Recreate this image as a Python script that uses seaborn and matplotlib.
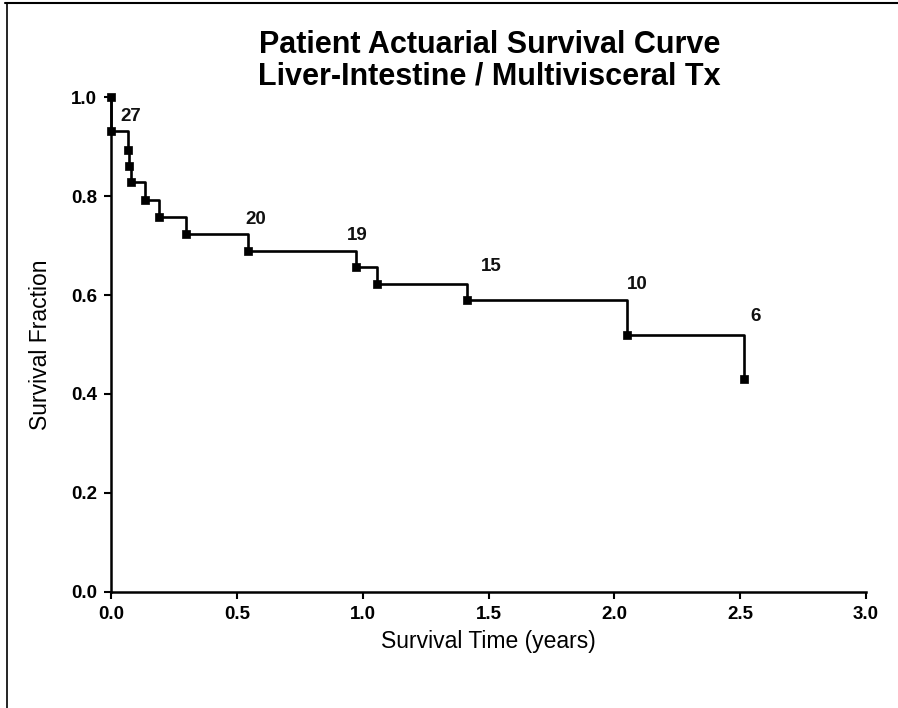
import matplotlib
matplotlib.use("Agg")
import matplotlib.pyplot as plt
import seaborn as sns
import pandas as pd
from matplotlib.lines import Line2D

# Data
times = [0.0, 0.0, 0.066, 0.070, 0.080, 0.135, 0.192, 0.298, 0.543, 0.972, 1.056, 1.413, 2.05, 2.515]
survival = [1.0, 0.931, 0.893, 0.861, 0.828, 0.792, 0.757, 0.723, 0.689, 0.657, 0.622, 0.590, 0.519, 0.430]
risk_labels = ["27", "20", "19", "15", "10", "6"]
risk_x = [0.08, 0.576, 0.977, 1.51, 2.09, 2.563]
risk_y = [0.962, 0.752, 0.721, 0.657, 0.622, 0.556]
x_ticks = [0.0, 0.5, 1.0, 1.5, 2.0, 2.5, 3.0]
y_ticks = [0.0, 0.2, 0.4, 0.6, 0.8, 1.0]

sns.set_theme(style="ticks")
plt.rcParams['font.family'] = ['Liberation Sans', 'DejaVu Sans']

df = pd.DataFrame({"t": times, "s": survival})

fig = plt.figure(figsize=(8.98, 7.08), dpi=100)
ax = fig.add_axes([0.1236, 0.1643, 0.9644 - 0.1236, 0.8626 - 0.1643])

sns.lineplot(data=df, x="t", y="s", ax=ax, color="black", linewidth=1.9,
             drawstyle="steps-post", estimator=None, sort=False, clip_on=False)
sns.scatterplot(data=df, x="t", y="s", ax=ax, color="black", marker="s",
                s=30, edgecolor="black", linewidth=0.5, clip_on=False, zorder=5)

for lab, xx, yy in zip(risk_labels, risk_x, risk_y):
    ax.text(xx, yy, lab, ha="center", va="center", fontsize=13.5,
            fontweight="bold", color="#111111")

ax.set_xlim(0, 3.0)
ax.set_ylim(0, 1.0)
ax.set_xticks(x_ticks)
ax.set_yticks(y_ticks)
ax.set_xticklabels([f"{v:.1f}" for v in x_ticks], fontsize=13.5, fontweight="bold")
ax.set_yticklabels([f"{v:.1f}" for v in y_ticks], fontsize=13.5, fontweight="bold")
ax.tick_params(axis="both", direction="out", length=5, width=1.5, colors="black", pad=5)
for sp in ["top", "right"]:
    ax.spines[sp].set_visible(False)
for sp in ["left", "bottom"]:
    ax.spines[sp].set_linewidth(1.8)
    ax.spines[sp].set_color("black")

ax.set_xlabel("Survival Time (years)", fontsize=16.5, labelpad=5, color="black")
ax.set_ylabel("Survival Fraction", fontsize=16.5, labelpad=14, color="black")

fig.text(0.545, 0.936, "Patient Actuarial Survival Curve", ha="center", va="center",
         fontsize=22, fontweight="bold", color="black")
fig.text(0.545, 0.892, "Liver-Intestine / Multivisceral Tx", ha="center", va="center",
         fontsize=22, fontweight="bold", color="black")

# scanned frame: top and left border
fig.add_artist(Line2D([0.006, 1.0], [0.996, 0.996], transform=fig.transFigure,
                      color="black", linewidth=1.5))
fig.add_artist(Line2D([0.008, 0.008], [0.0, 0.996], transform=fig.transFigure,
                      color="black", linewidth=1.2))

fig.savefig("out.png", dpi=100)
